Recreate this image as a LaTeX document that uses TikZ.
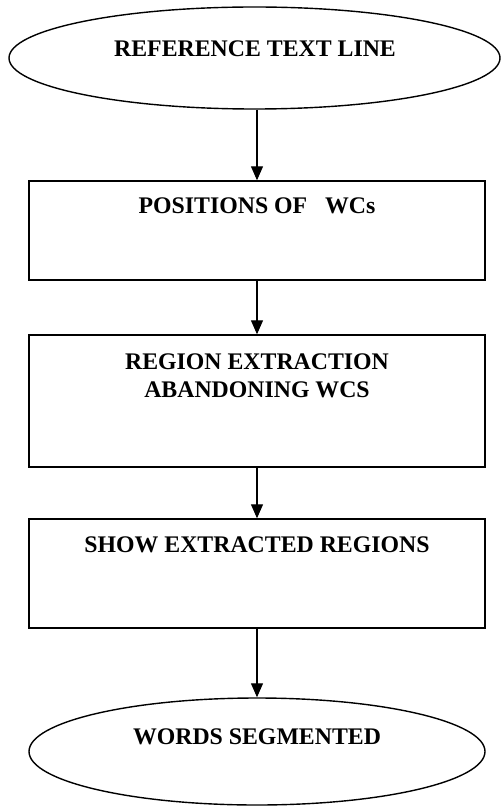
\documentclass[tikz,border=0pt]{standalone}
\usepackage{fontspec}
\setmainfont{Liberation Serif}
\usetikzlibrary{shapes.geometric,arrows.meta}
\begin{document}
\begin{tikzpicture}[x=1pt,y=-1pt,
  shapeline/.style={draw=black,line width=1.4pt,inner sep=0pt},
  boxshape/.style={shapeline,rectangle,minimum width=456pt},
  ovalshape/.style={shapeline,ellipse},
  lbl/.style={font=\bfseries\fontsize{23.8}{28}\selectfont,align=center,inner sep=0pt,anchor=center},
  flow/.style={line width=1.1pt,-{Triangle[width=12pt,length=14pt]}}]
\useasboundingbox (0,0) rectangle (500,810);
% shapes
\node[ovalshape,minimum width=491pt,minimum height=102pt] (start) at (254.5,58) {};
\node[boxshape,minimum height=99pt] (pos) at (257,230.5) {};
\node[boxshape,minimum height=132pt] (reg) at (257,401) {};
\node[boxshape,minimum height=109pt] (show) at (257,573.5) {};
\node[ovalshape,minimum width=456pt,minimum height=107pt] (end) at (257,751.5) {};
% labels
\node[lbl] (tstart) at (255,49) {REFERENCE TEXT LINE};
\node[lbl] (tpos) at (257,206) {POSITIONS OF \ \ WCs};
\node[lbl] (treg) at (257,376) {REGION EXTRACTION\\ABANDONING WCS};
\node[lbl] (tshow) at (257,545) {SHOW EXTRACTED REGIONS};
\node[lbl] (tend) at (257,737) {WORDS SEGMENTED};
% connectors
\draw[flow] (pos.north |- start.south) -- (pos.north);
\draw[flow] (pos.south) -- (reg.north);
\draw[flow] (reg.south) -- (show.north);
\draw[flow] (show.south) -- (end.north);
\end{tikzpicture}
\end{document}
